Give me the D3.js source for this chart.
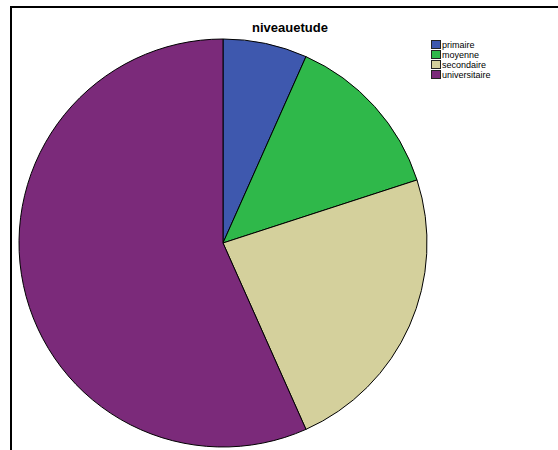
<!DOCTYPE html>
<html>
<head>
<meta charset="utf-8">
<script src="https://cdn.jsdelivr.net/npm/d3@7"></script>
<style>
  html, body { margin: 0; padding: 0; background: #fff; }
  svg { display: block; }
</style>
</head>
<body>
<script>
// Niveau d'étude: counts per category
const categories = ["primaire", "moyenne", "secondaire", "universitaire"];
const counts = [4, 8, 14, 34];
const colors = ["#3e58ae", "#2fb84a", "#d4d09c", "#7b2a7a"];
const title = "niveauetude";

const W = 558, H = 450;
const svg = d3.select("body").append("svg").attr("width", W).attr("height", H);

// outer frame: top and left edges
svg.append("line").attr("x1", 10).attr("x2", W).attr("y1", 7).attr("y2", 7)
  .attr("stroke", "#000").attr("stroke-width", 2);
svg.append("line").attr("x1", 11).attr("x2", 11).attr("y1", 6).attr("y2", H)
  .attr("stroke", "#000").attr("stroke-width", 2);

svg.append("text").attr("x", 290).attr("y", 32).attr("text-anchor", "middle")
  .attr("font-family", "Liberation Sans, Arial, sans-serif").attr("font-weight", "bold")
  .attr("font-size", 13).attr("fill", "#000").text(title);

const cx = 223, cy = 243, r = 204;
const data = categories.map((c, i) => ({ cat: c, value: counts[i], color: colors[i] }));
const pie = d3.pie().value(d => d.value).sort(null);
const arc = d3.arc().innerRadius(0).outerRadius(r);

svg.append("g").attr("transform", `translate(${cx},${cy})`)
  .selectAll("path").data(pie(data)).join("path")
  .attr("d", arc).attr("fill", d => d.data.color)
  .attr("stroke", "#000").attr("stroke-width", 1);

// legend
const lg = svg.append("g").attr("transform", "translate(431,40)");
const item = lg.selectAll("g").data(data).join("g")
  .attr("transform", (d, i) => `translate(0,${i * 10})`);
item.append("rect").attr("x", 0.5).attr("y", 0.5).attr("width", 9).attr("height", 8)
  .attr("fill", d => d.color).attr("stroke", "#222").attr("stroke-width", 1);
item.append("text").attr("x", 11).attr("y", 8)
  .attr("font-family", "Liberation Sans, Arial, sans-serif").attr("font-size", 9)
  .attr("fill", "#000").text(d => d.cat);
</script>
</body>
</html>
